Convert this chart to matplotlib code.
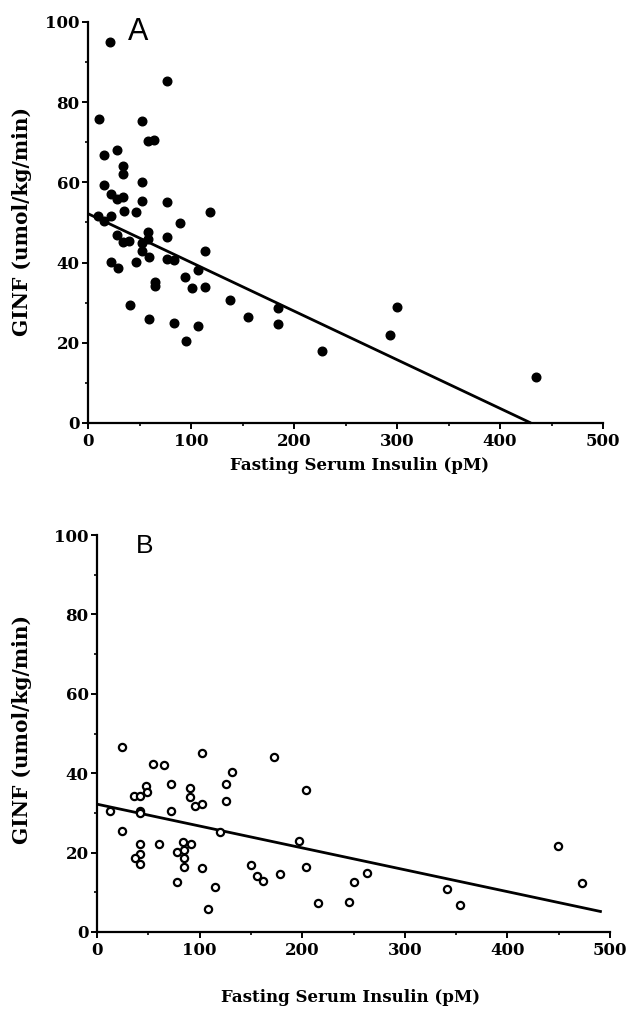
import matplotlib
matplotlib.use("Agg")
import matplotlib.pyplot as plt
import numpy as np

# ---- Panel A data (filled circles) ----
insulin_a = [21.4, 76.4, 10.7, 52.4, 58.5, 64.1, 15.8, 28.2, 34.3, 34.3,
             15.8, 52.4, 22.3, 28.4, 34.3, 52.4, 76.7, 118.2, 34.7, 46.3,
             10.0, 22.3, 15.8, 89.0, 28.4, 58.5, 34.3, 40.1, 52.4, 58.5,
             76.4, 52.4, 59.2, 113.3, 22.3, 46.6, 77.0, 83.5, 28.8, 107.1,
             64.8, 64.8, 94.5, 101.3, 113.6, 137.9, 40.8, 155.3, 184.2, 184.2,
             59.2, 83.2, 107.1, 94.9, 226.9, 293.2, 299.7, 435.0]
ginf_a = [95.1, 85.2, 75.8, 75.3, 70.2, 70.6, 66.8, 68.2, 64.2, 62.1,
          59.3, 60.1, 57.1, 55.8, 56.3, 55.4, 55.1, 52.6, 52.9, 52.5,
          51.6, 51.6, 50.4, 49.9, 47.0, 47.7, 45.1, 45.5, 44.8, 45.8,
          46.5, 42.9, 41.5, 42.9, 40.2, 40.2, 40.8, 40.6, 38.6, 38.2,
          35.2, 34.2, 36.4, 33.7, 33.9, 30.7, 29.4, 26.4, 28.6, 24.7,
          25.9, 24.9, 24.2, 20.4, 18.0, 22.0, 29.0, 11.5]
fit_a_x = [0, 430]
fit_a_y = [52.2, 0.0]

# ---- Panel B data (open circles) ----
insulin_b = [24.0, 102.0, 173.0, 54.3, 65.6, 132.0, 71.8, 125.7, 48.0, 90.6,
             203.4, 36.0, 42.0, 48.4, 90.6, 125.7, 95.8, 102.3, 12.7, 42.0,
             42.0, 71.8, 24.7, 120.0, 42.0, 60.7, 84.0, 91.3, 197.0, 78.3,
             84.8, 85.0, 84.8, 42.0, 37.0, 42.2, 102.6, 78.3, 114.7, 108.5,
             149.8, 155.6, 161.8, 178.4, 203.7, 215.4, 246.0, 250.8, 263.5, 340.8,
             353.8, 449.6, 473.0]
ginf_b = [46.6, 45.2, 44.1, 42.4, 42.1, 40.3, 37.4, 37.4, 36.9, 36.3,
          35.8, 34.2, 34.3, 35.3, 33.9, 33.1, 31.7, 32.2, 30.6, 30.5,
          29.9, 30.6, 25.5, 25.1, 22.1, 22.2, 22.7, 22.2, 22.8, 20.1,
          20.7, 18.6, 16.4, 19.6, 18.7, 17.1, 16.2, 12.5, 11.3, 5.8,
          16.8, 14.1, 12.9, 14.6, 16.3, 7.2, 7.6, 12.6, 14.8, 10.9,
          6.9, 21.6, 12.3]
fit_b_x = [0, 492]
fit_b_y = [32.2, 5.1]

x_ticks = [0, 100, 200, 300, 400, 500]
y_ticks = [0, 20, 40, 60, 80, 100]
xlabel = "Fasting Serum Insulin (pM)"
ylabel = "GINF (umol/kg/min)"

W, H = 629, 1010
fig = plt.figure(figsize=(W / 100, H / 100), dpi=100)

serif = "DejaVu Serif"


def style(ax):
    for s in ("top", "right"):
        ax.spines[s].set_visible(False)
    for s in ("left", "bottom"):
        ax.spines[s].set_linewidth(1.6)
    ax.set_xlim(0, 500)
    ax.set_ylim(0, 100)
    ax.set_xticks(x_ticks)
    ax.set_yticks(y_ticks)
    ax.set_xticks(np.arange(50, 500, 100), minor=True)
    ax.set_yticks(np.arange(10, 100, 20), minor=True)
    ax.tick_params(which="major", direction="out", length=4, width=1.4,
                   pad=2)
    ax.tick_params(which="minor", direction="out", length=2.5, width=1.2)
    ax.tick_params(axis="x", which="major", pad=3)
    for lab in ax.get_xticklabels() + ax.get_yticklabels():
        lab.set_fontfamily(serif)
        lab.set_fontweight("bold")
        lab.set_fontsize(12)
    ax.patch.set_alpha(0)


# Panel A
axA = fig.add_axes([88 / W, 1 - 423 / H, (603 - 88) / W, (423 - 22) / H])
style(axA)
axA.plot(fit_a_x, fit_a_y, color="black", lw=2.0, solid_capstyle="butt",
         clip_on=False)
axA.plot(insulin_a, ginf_a, "o", color="black", ms=6.2, clip_on=False)
axA.text(138 / W, 1 - 32 / H, "A", transform=fig.transFigure, fontsize=22,
         ha="center", va="center", family="Liberation Sans")

# Panel B
axB = fig.add_axes([97 / W, 1 - 932 / H, (610 - 97) / W, (932 - 535) / H])
style(axB)
axB.plot(fit_b_x, fit_b_y, color="black", lw=2.0, solid_capstyle="butt",
         clip_on=False)
axB.plot(insulin_b, ginf_b, "o", mfc="white", mec="black", mew=1.6, ms=5.2,
         clip_on=False)
axB.text(145 / W, 1 - 546 / H, "B", transform=fig.transFigure, fontsize=19,
         ha="center", va="center", family="Liberation Sans")

# Axis labels
fig.text(360 / W, 1 - 465 / H, xlabel, ha="center", va="center",
         family=serif, fontweight="bold", fontsize=12)
fig.text(351 / W, 1 - 998 / H, xlabel, ha="center", va="center",
         family=serif, fontweight="bold", fontsize=12)
fig.text(22 / W, 1 - 222 / H, ylabel, ha="center", va="center",
         rotation=90, family=serif, fontweight="bold", fontsize=14.5)
fig.text(22 / W, 1 - 730 / H, ylabel, ha="center", va="center",
         rotation=90, family=serif, fontweight="bold", fontsize=14.5)

fig.savefig("out.png", dpi=100)
